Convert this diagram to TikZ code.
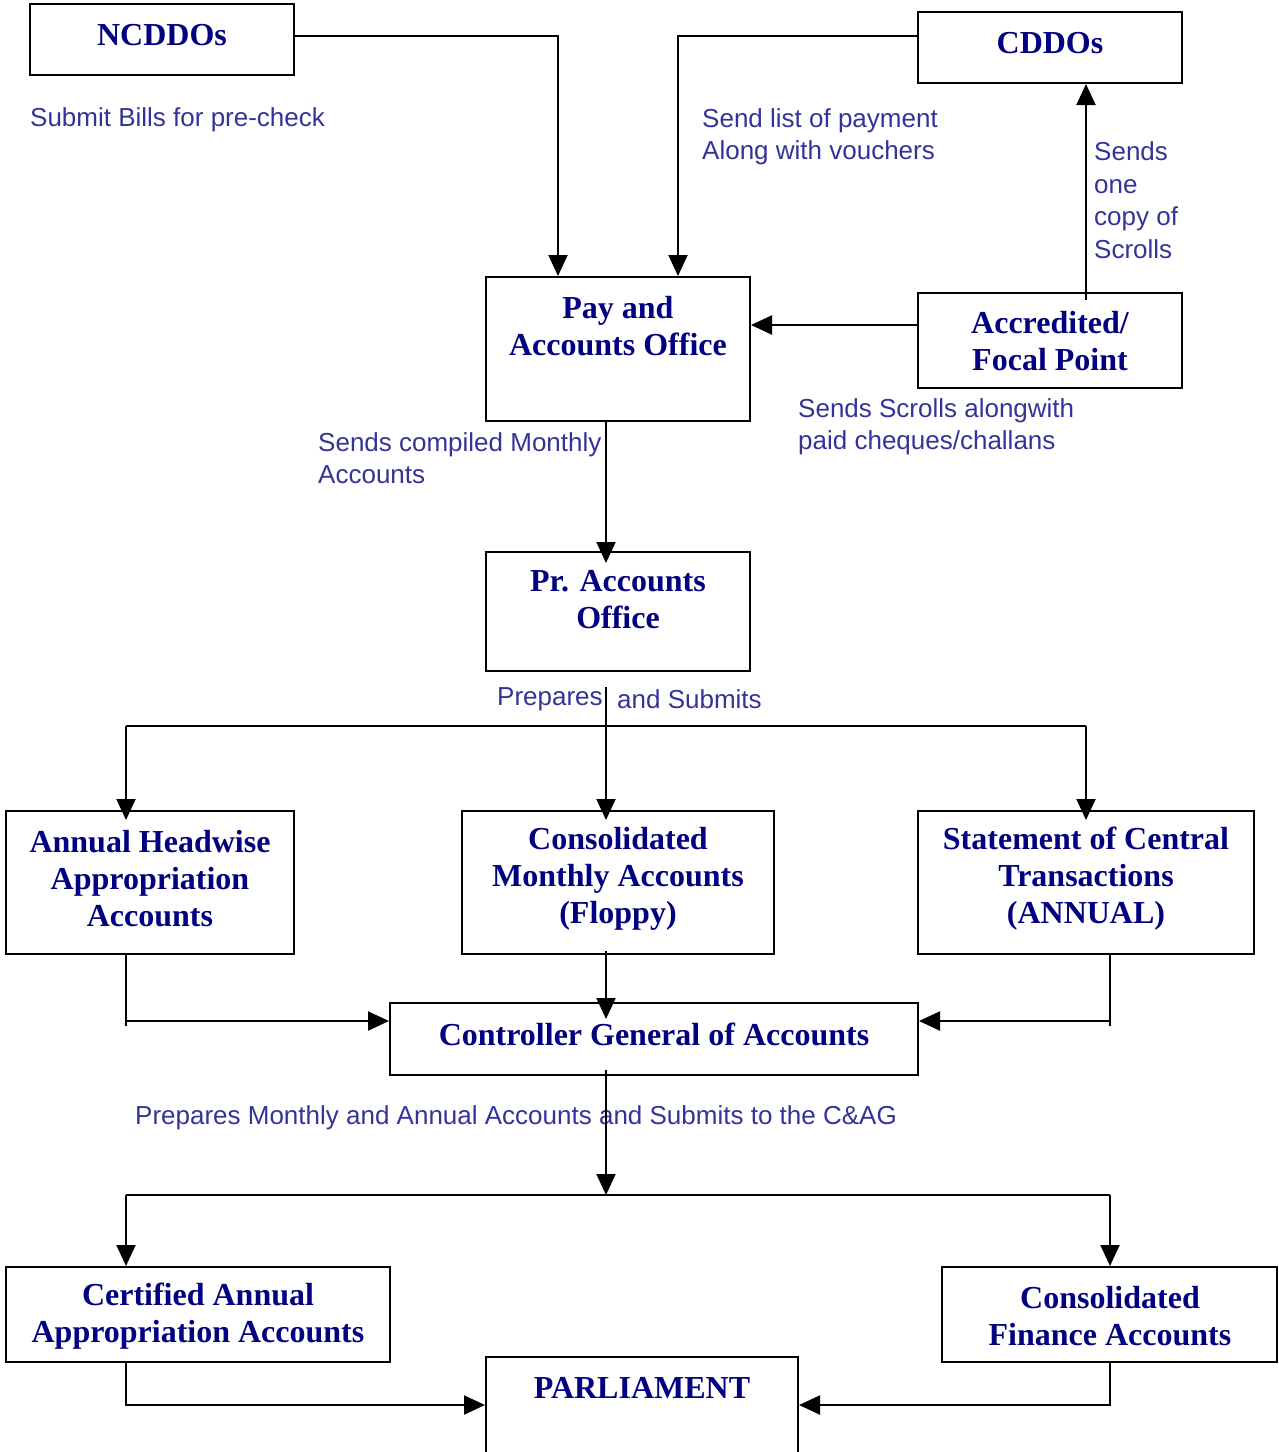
\documentclass[tikz,border=0pt]{standalone}
\usepackage{fontspec}
\setmainfont{Liberation Serif}
\setsansfont{Liberation Sans}
\usetikzlibrary{arrows.meta}
\definecolor{boxblue}{HTML}{000080}
\definecolor{lblblue}{HTML}{333399}
\begin{document}
\begin{tikzpicture}[x=1pt,y=-1pt,
 box/.style={draw, line width=2pt, inner sep=0pt},
 btxt/.style={text=boxblue, font=\bfseries\fontsize{32}{37}\selectfont, align=center, inner sep=0pt},
 lbl/.style={text=lblblue, font=\sffamily\fontsize{26}{32.5}\selectfont, align=left, inner sep=0pt, anchor=west},
 conn/.style={line width=2pt},
 arr/.style={conn, -{Triangle[length=21pt,width=19pt]}}]
\useasboundingbox (0,0) rectangle (1278,1452);
% boxes
\node[box, minimum width=264pt, minimum height=71pt] (ncddo) at (162,39.5) {};
\node[box, minimum width=264pt, minimum height=71pt] (cddo) at (1050,47.5) {};
\node[box, minimum width=264pt, minimum height=144pt] (pao) at (618,349) {};
\node[box, minimum width=264pt, minimum height=95pt] (accr) at (1050,340.5) {};
\node[box, minimum width=264pt, minimum height=119pt] (prao) at (618,611.5) {};
\node[box, minimum width=288pt, minimum height=143pt] (aha) at (150,882.5) {};
\node[box, minimum width=312pt, minimum height=143pt] (cma) at (618,882.5) {};
\node[box, minimum width=336pt, minimum height=143pt] (sct) at (1086,882.5) {};
\node[box, minimum width=528pt, minimum height=72pt] (cga) at (654,1039) {};
\node[box, minimum width=384pt, minimum height=95pt] (caa) at (198,1314.5) {};
\node[box, minimum width=335pt, minimum height=95pt] (cfa) at (1109.5,1314.5) {};
\node[box, minimum width=312pt, minimum height=123pt] (parl) at (642,1418.5) {};
% box texts
\node[btxt] (t1) at (162,35) {NCDDOs};
\node[btxt] (t2) at (1050,43) {CDDOs};
\node[btxt] (t3) at (618,326) {Pay and\\Accounts Office};
\node[btxt] (t4) at (1050,341) {Accredited/\\Focal Point};
\node[btxt] (t5) at (618,600) {Pr. Accounts\\Office};
\node[btxt] (t6) at (150,879) {Annual Headwise\\Appropriation\\Accounts};
\node[btxt] (t7) at (618,879) {Consolidated\\Monthly Accounts\\(Floppy)};
\node[btxt] (t8) at (1086,879) {Statement of Central\\Transactions\\(ANNUAL)};
\node[btxt] (t9) at (654,1034) {Controller General of Accounts};
\node[btxt] (t10) at (198,1316) {Certified Annual\\Appropriation Accounts};
\node[btxt] (t11) at (1110,1316) {Consolidated\\Finance Accounts};
\node[btxt] (t12) at (642,1388) {PARLIAMENT};
% labels
\node[lbl] (l1) at (30,120) {Submit Bills for pre-check};
\node[lbl] (l2) at (702,137) {Send list of payment\\Along with vouchers};
\node[lbl] (l3) at (1094,200) {Sends\\one\\copy of\\Scrolls};
\node[lbl] (l4) at (798,427) {Sends Scrolls alongwith\\paid cheques/challans};
\node[lbl] (l5) at (318,458) {Sends compiled Monthly\\Accounts};
\node[lbl] (l6) at (497,699) {Prepares};
\node[lbl] (l7) at (617,699) {and Submits};
\node[lbl] (l8) at (135,1118) {Prepares Monthly and Annual Accounts and Submits to the C\&AG};
% connectors top
\draw[arr] ([yshift=3.5pt]ncddo.east) -| ([xshift=-60pt]pao.north);
\draw[arr] ([yshift=11.5pt]cddo.west) -| ([xshift=60pt]pao.north);
\draw[arr] ([xshift=36pt,yshift=-8pt]accr.north) -- ([xshift=36pt]cddo.south);
\draw[arr] ([yshift=15.5pt]accr.west) -- ([yshift=15.5pt]accr.west -| pao.east);
\draw[arr,shorten >=-12pt] ([xshift=-12pt]pao.south) -- ([xshift=-12pt]prao.north);
% split from Pr. Accounts Office
\coordinate (split1) at (606,726);
\coordinate (hL) at (126,726);
\coordinate (hR) at (1086,726);
\draw[conn] ([xshift=-12pt,yshift=-15pt]prao.south) -- (split1);
\draw[conn] (hL) -- (hR);
\draw[arr,shorten >=-10pt] (hL) -- (hL |- aha.north);
\draw[arr,shorten >=-10pt] (split1) -- (split1 |- cma.north);
\draw[arr,shorten >=-10pt] (hR) -- (hR |- sct.north);
% into CGA
\coordinate (jA) at (126,1021);
\coordinate (jS) at (1110,1021);
\coordinate (cmaB) at ([xshift=-12pt,yshift=4pt]cma.south);
\draw[conn] (jA |- aha.south) -- ([yshift=-5pt]jA);
\draw[arr] (jA) -- (jA -| cga.west);
\draw[conn] (jS |- sct.south) -- ([yshift=-5pt]jS);
\draw[arr] (jS) -- (jS -| cga.east);
\draw[arr,shorten >=-17pt] (cmaB) -- (cmaB |- cga.north);
% from CGA
\coordinate (split2) at (606,1195);
\coordinate (hL2) at (126,1195);
\coordinate (hR2) at (1110,1195);
\coordinate (cgaB) at ([xshift=-48pt,yshift=6pt]cga.south);
\draw[arr] (cgaB) -- (split2);
\draw[conn] (hL2) -- (hR2);
\draw[arr] (hL2) -- (hL2 |- caa.north);
\draw[arr] (hR2) -- (hR2 |- cfa.north);
% to Parliament
\coordinate (jC) at (126,1405);
\coordinate (jF) at (1110,1405);
\draw[arr] (jC |- caa.south) -- (jC) -- (jC -| parl.west);
\draw[arr] (jF |- cfa.south) -- (jF) -- (jF -| parl.east);
\end{tikzpicture}
\end{document}
